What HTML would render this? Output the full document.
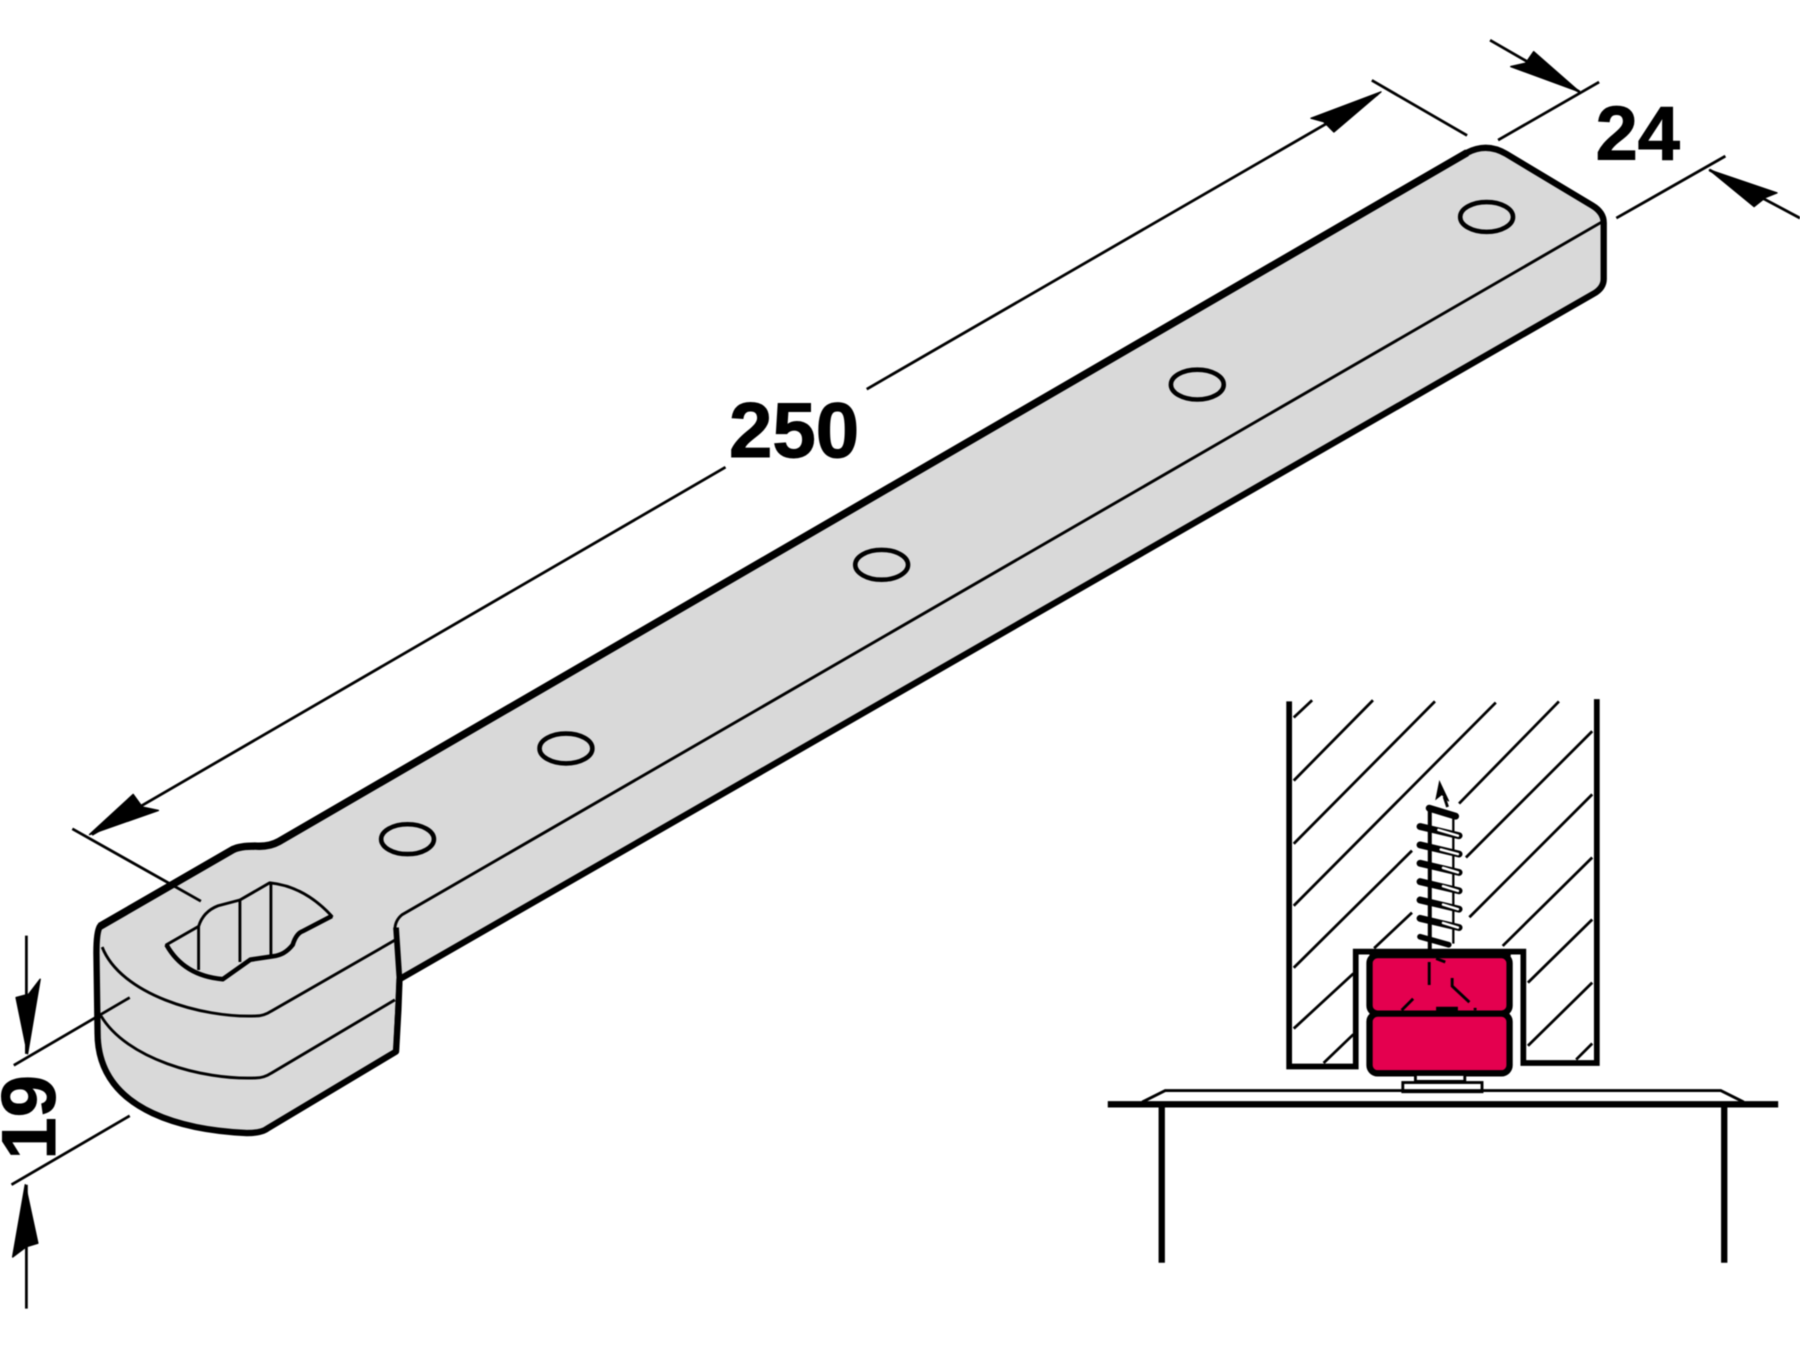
<!DOCTYPE html>
<html><head><meta charset="utf-8"><style>html,body{margin:0;padding:0;background:#fff}svg{display:block;filter:blur(.4px)}text{font-family:"Liberation Sans",sans-serif;font-weight:bold;fill:#000;stroke:#000;stroke-width:.9px}</style></head>
<body>
<svg width="1800" height="1350" viewBox="0 0 1568 1176" xmlns="http://www.w3.org/2000/svg">
<rect width="1568" height="1176" fill="#fff"/>
<g stroke="#000" fill="none" stroke-linejoin="round">
<!-- body -->
<path d="M87 807 L203 740 Q209 737 222 737 Q234 738 243 733 L1278 133 Q1295 124 1312 134 L1387 179 Q1397 185 1397 194 L1397 243 Q1397 251 1388 256 L348 853 L347 880 L345 916 L233 983 Q228 987 215 987 C170 985 85 972 85 900 L84 830 Q84 812 87 807 Z" fill="#d9d9d9" stroke-width="5.5"/>
<path d="M87 807 L203 740 Q209 737 222 737 Q234 738 243 733 L1278 133" stroke-width="6.5"/>
<path d="M89 825 C105 866 175 887 223 885 Q230 885 236 881 L344 819" stroke-width="2.5"/>
<path d="M344 810 Q344 802 350 797 L1396 193" stroke-width="2.5"/>
<path d="M88 885 C110 922 175 941 223 939 Q230 939 236 935 L344 871" stroke-width="2.5"/>
<path d="M345 808 L348 853 L345 916" stroke-width="5"/>
<!-- holes -->
<g stroke-width="4">
<ellipse cx="1295" cy="189" rx="23" ry="13"/>
<ellipse cx="1043" cy="335" rx="23" ry="13"/>
<ellipse cx="768" cy="492" rx="23" ry="13"/>
<ellipse cx="493" cy="652" rx="23" ry="13"/>
<ellipse cx="355" cy="731" rx="23" ry="13"/>
</g>
<!-- slot -->
<path d="M145 823 L173 807 Q177 794 190 789 L209 784 L235 769 Q265 772 289 798 L264 811 Q258 813 255 823 Q248 832 238 833 L218 836 L194 853 Q160 850 145 823 Z" stroke-width="2.5"/>
<path d="M145 823 Q160 850 194 853 L218 836 L238 833 Q248 832 255 823 Q258 813 264 811 L289 798" stroke-width="4"/>
<path d="M173 807V845M209 784V838M236 769V833" stroke-width="2.5"/>
<!-- dimension lines -->
<g stroke-width="2.4">
<path d="M63 722 L175 785"/>
<path d="M1195 70 L1278 118"/>
<path d="M80 727 L632 407"/>
<path d="M755 339 L1200 82"/>
<path d="M1298 35 L1376 80"/>
<path d="M1305 122 L1393 71.5"/>
<path d="M1408 190 L1503 136"/>
<path d="M1489 148 L1568 190"/>
<path d="M12 928 L113 869"/>
<path d="M10 1032 L113 972"/>
<path d="M23 815 L23 918"/>
<path d="M23 1032 L23 1140"/>
</g>
</g>
<g fill="#000" stroke="#000" stroke-width="1.2" stroke-linejoin="round">
<path d="M78 727 L116 692 L124 703 L138 706 Z"/>
<path d="M1203 80 L1142 103 L1153 106 L1162 115 Z"/>
<path d="M1376 80 L1336 45 L1329 55 L1316 58 Z"/>
<path d="M1489 148 L1548 168 L1538 172 L1528 180 Z"/>
<path d="M24 918 L14 869 L25 866 L35 853 Z"/>
<path d="M22 1032 L11 1095 L23 1086 L33 1083 Z"/>
</g>
<text x="635" y="398" font-size="68">250</text>
<text x="1390" y="139" font-size="66">24</text>
<text transform="translate(48,1010) rotate(-90)" font-size="66">19</text>
<!-- right figure: hatch -->
<g stroke="#000" stroke-width="2.4" fill="none">
<path d="M1127 625L1143 610M1127 680L1196 610M1127 735L1250 611M1127 789L1303 612M1271 700L1358 611M1277 747L1387 637M1127 843L1230 741M1280 799L1387 692M1127 896L1179 848M1197 826L1230 795M1309 824L1387 747M1153 926L1179 901M1331 856L1387 801M1331 911L1387 856M1373 923L1387 909"/>
</g>
<!-- screw -->
<g stroke="#000" fill="none">
<path d="M1245.5 703V828" stroke-width="3.5"/>
<path d="M1266 712V822" stroke-width="2"/>
<path d="M1254 681 L1251 696 L1256 692 L1262 698 Z" fill="#000" stroke-width="1"/>
<path d="M1258 694 L1261 703" stroke-width="2.5"/>
<g stroke-width="6" stroke-linecap="round">
<path d="M1245 704L1268 711M1237 720L1271 728M1237 736L1271 744M1237 752L1271 760M1237 768L1271 776M1237 784L1271 792M1237 800L1271 808"/>
<path d="M1237 816L1262 823" stroke-width="5"/>
</g>
<g stroke-width="2.2" stroke="#fff" stroke-linecap="round">
<path d="M1253 723L1270 728M1255 740L1270 744M1257 756L1270 760M1257 772L1270 776M1257 788L1270 792M1257 804L1270 808"/>
</g>
</g>
<!-- wall -->
<path d="M1123 611V929H1181V829H1327V926H1391V609" fill="none" stroke="#000" stroke-width="5"/>
<rect x="1193" y="832" width="122" height="51" rx="7" fill="#e4004f" stroke="#000" stroke-width="5.5"/>
<rect x="1193" y="883" width="122" height="52" rx="7" fill="#e4004f" stroke="#000" stroke-width="5.5"/>
<path d="M1193 830H1316" stroke="#000" stroke-width="6"/>
<g stroke="#000" fill="none" stroke-width="2.5">
<path d="M1245 838V858M1265 852V859L1280 873M1231 870L1221 880M1251 835L1259 838M1285 880V878"/>
</g>
<rect x="1251" y="877" width="19" height="5" fill="#000"/>
<!-- foot and base -->
<g stroke="#000" fill="#fff" stroke-width="2.5">
<rect x="1233" y="936" width="43" height="6"/>
<rect x="1222" y="943" width="69" height="8"/>
<path d="M995 960 L1015 950 H1499 L1519 960" fill="none"/>
</g>
<path d="M965 962H1549M1012 962V1100M1502 962V1100" stroke="#000" stroke-width="5.5" fill="none"/>
</svg>
</body></html>
